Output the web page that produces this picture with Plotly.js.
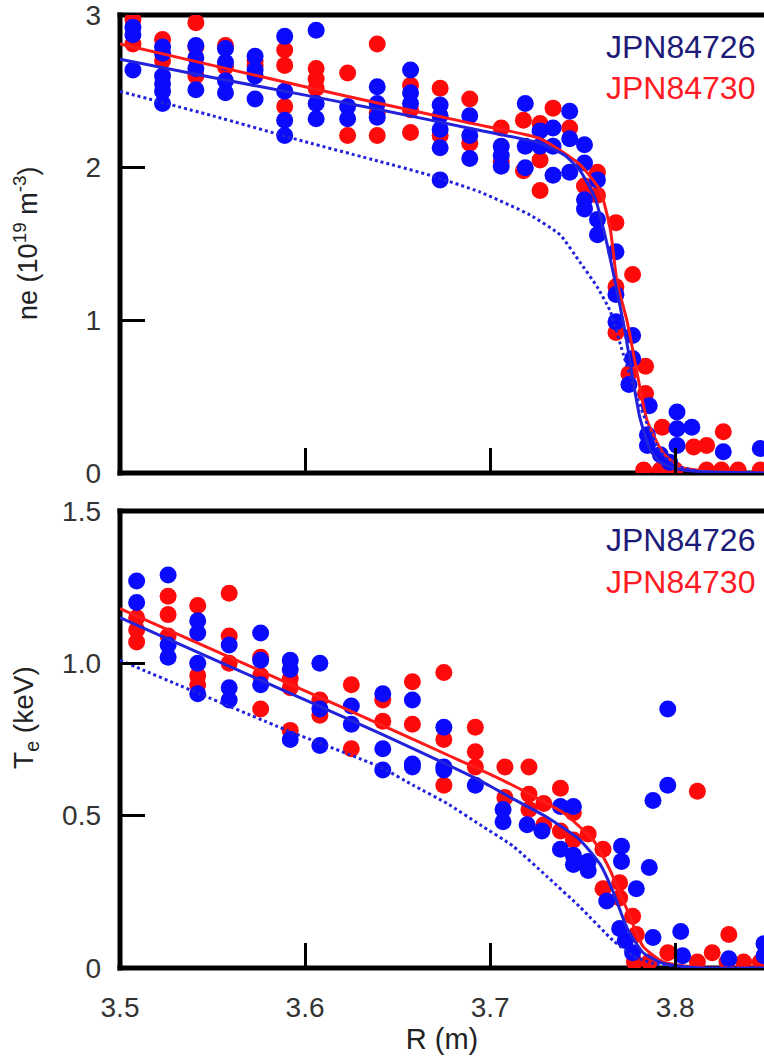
<!DOCTYPE html>
<html><head><meta charset="utf-8">
<script src="https://cdn.plot.ly/plotly-3.0.1.min.js"></script>
<style>html,body{margin:0;padding:0;background:#fff;overflow:hidden}</style>
</head><body><div id="chart" style="width:764px;height:1063px"></div>
<script>
// ---------- DATA ----------
// Top panel: electron density ne (10^19 m^-3) vs R (m)
var neBlueR = [3.507,3.507,3.507, 3.523,3.523,3.523,3.523,3.523,3.523, 3.541,3.541,3.541,3.541, 3.557,3.557,3.557,3.557,
  3.573,3.573,3.573,3.573, 3.589,3.589,3.589,3.589, 3.606,3.606,3.606, 3.623,3.623, 3.639,3.639,3.639, 3.657,3.657,3.657,
  3.673,3.673,3.673,3.673,3.673, 3.689,3.689,3.689, 3.706,3.706,3.706, 3.719,3.719,3.719, 3.727,3.727, 3.734,3.734,3.734,
  3.743,3.743,3.743, 3.751,3.751,3.751,3.751, 3.758,3.758,3.758, 3.768,3.768,3.768, 3.777,3.777, 3.775, 3.785,3.785, 3.786,
  3.792, 3.797, 3.801,3.801,3.801, 3.809, 3.826, 3.846];
var neBlue = [2.92,2.87,2.64, 2.79,2.75,2.60,2.55,2.50,2.42, 2.80,2.72,2.65,2.51, 2.78,2.69,2.57,2.49,
  2.73,2.64,2.60,2.45, 2.86,2.50,2.31,2.21, 2.90,2.42,2.32, 2.40,2.32, 2.53,2.42,2.33, 2.64,2.49,2.42,
  2.41,2.34,2.25,2.13,1.92, 2.34,2.21,2.06, 2.14,2.08,2.01, 2.42,2.14,2.00, 2.24,2.14, 2.26,2.14,1.95,
  2.37,2.19,1.97, 2.15,2.03,1.79,1.73, 1.92,1.66,1.56, 1.45,1.17,0.99, 0.90,0.75, 0.58, 0.25,0.18, 0.44,
  0.12, 0.07, 0.40,0.29,0.18, 0.30, 0.14, 0.16];
var neRedR = [3.507,3.507, 3.523,3.523, 3.541,3.541,3.541, 3.557,3.557, 3.573,3.573, 3.589,3.589,3.589, 3.606,3.606,3.606,
  3.623,3.623, 3.639,3.639,3.639, 3.657,3.657,3.657, 3.673,3.673, 3.689,3.689, 3.706,3.706, 3.718,3.718, 3.727,3.727,3.727,
  3.734, 3.743, 3.751, 3.758,3.758, 3.768,3.768,3.768, 3.777, 3.775, 3.784,3.784, 3.793, 3.810, 3.817, 3.826,
  3.783,3.792,3.800,3.817,3.825,3.834,3.846];
var neRed = [2.97,2.81, 2.84,2.70, 2.95,2.79,2.60, 2.80,2.66, 2.70,2.67, 2.77,2.67,2.40, 2.65,2.58,2.52,
  2.62,2.21, 2.81,2.36,2.21, 2.54,2.38,2.23, 2.52,2.21, 2.45,2.16, 2.26,2.04, 2.31,1.98, 2.29,2.05,1.85,
  2.39, 2.26, 1.88, 1.97,1.82, 1.64,1.22,0.92, 1.30, 0.65, 0.70,0.52, 0.30, 0.17, 0.18, 0.27,
  0.02,0.02,0.02,0.02,0.02,0.02,0.02];
// fitted profiles (top)
var neFitBlueR = [3.500,3.550,3.600,3.6405,3.690,3.727,3.7405,3.7486,3.7568,3.7622,3.7676,3.773,3.7773,3.781,3.7865,3.792,3.800,3.8135,3.848];
var neFitBlue  = [2.71, 2.59, 2.475,2.38,  2.255,2.16, 2.08,  1.98,  1.80,  1.55,  1.25,  0.92, 0.60,  0.36, 0.15,  0.07, 0.03, 0.01,  0.00];
var neFitRedR  = [3.500,3.550,3.600,3.6405,3.690,3.727,3.7486,3.7595,3.7649,3.7686,3.7741,3.7795,3.7849,3.7935,3.8027,3.8189,3.848];
var neFitRed   = [2.81, 2.67, 2.53, 2.42,  2.29, 2.19, 2.02,  1.85,  1.60,  1.25,  0.99,  0.65,  0.34,  0.13,  0.04,  0.01,  0.00];
var neDotR     = [3.500,3.550,3.600,3.6405,3.6676,3.6946,3.7216,3.7378,3.7486,3.7578,3.7649,3.7719,3.7795,3.7849,3.7919,3.800,3.8135,3.848];
var neDot      = [2.50, 2.34, 2.17, 2.04,  1.95,  1.84,  1.69,  1.56,  1.38,  1.22,  1.06,  0.78,  0.49,  0.32,  0.14,  0.05, 0.01,  0.00];

// Bottom panel: electron temperature Te (keV) vs R (m)
var teBlueR = [3.509,3.509, 3.526,3.526,3.526, 3.542,3.542,3.542,3.542, 3.559,3.559,3.559, 3.576,3.576,3.576,
  3.592,3.592,3.592, 3.608,3.608,3.608, 3.625,3.625, 3.642,3.642,3.642, 3.658,3.658,3.658, 3.675,3.675,3.675,
  3.692, 3.707,3.707, 3.720, 3.728, 3.738,3.738, 3.745,3.745,3.745, 3.753,3.753, 3.763, 3.771,3.771, 3.770,
  3.773, 3.777, 3.779, 3.786, 3.788,3.788, 3.796,3.796, 3.803, 3.804, 3.829, 3.848,3.848];
var teBlue = [1.27,1.20, 1.29,1.06,1.02, 1.14,1.10,1.00,0.90, 1.06,0.92,0.88, 1.10,1.01,0.93,
  1.01,0.98,0.75, 1.00,0.85,0.73, 0.86,0.80, 0.90,0.72,0.65, 0.88,0.67,0.66, 0.79,0.66,0.65,
  0.60, 0.52,0.48, 0.47, 0.45, 0.53,0.39, 0.37,0.34,0.53, 0.35,0.32, 0.22, 0.40,0.35, 0.13,
  0.09, 0.05, 0.26, 0.33, 0.10,0.55, 0.85,0.60, 0.12, 0.04, 0.03, 0.08,0.04];
var teRedR = [3.509,3.509,3.509, 3.526,3.526,3.526, 3.542,3.542,3.542, 3.559,3.559,3.559, 3.576,3.576,3.576,
  3.592,3.592,3.592, 3.608,3.608, 3.625,3.625, 3.642,3.642, 3.658,3.658, 3.675,3.675,3.675, 3.692,3.692,3.692,
  3.708,3.708, 3.721,3.721,3.721, 3.729,3.729, 3.738,3.738, 3.745,3.745, 3.753, 3.761,3.761, 3.770,3.770,
  3.777, 3.779, 3.796, 3.812, 3.820, 3.829, 3.778,3.786,3.812,3.828,3.837,3.846];
var teRed = [1.15,1.11,1.07, 1.22,1.16,1.09, 1.19,0.96,0.93, 1.23,1.09,1.00, 1.02,0.96,0.85,
  0.95,0.92,0.78, 0.88,0.83, 0.93,0.72, 0.88,0.81, 0.94,0.80, 0.97,0.75,0.60, 0.79,0.71,0.66,
  0.66,0.56, 0.66,0.57,0.52, 0.54,0.47, 0.59,0.45, 0.51,0.42, 0.44, 0.39,0.26, 0.28,0.23,
  0.17, 0.11, 0.05, 0.58, 0.05, 0.11, 0.02,0.02,0.02,0.02,0.02,0.02];
// fitted profiles (bottom)
var teFitBlueR = [3.500,3.550,3.600,3.6405,3.6946,3.7124,3.7308,3.7486,3.7595,3.7665,3.7741,3.7827,3.7935,3.8135,3.848];
var teFitBlue  = [1.15, 1.015,0.88, 0.77,  0.615, 0.555, 0.495, 0.42,  0.34,  0.25,  0.13,  0.05,  0.015, 0.00,  0.00];
var teFitRedR  = [3.500,3.550,3.600,3.6405,3.6768,3.7038,3.7216,3.7395,3.7557,3.7649,3.7741,3.7827,3.7935,3.8135,3.848];
var teFitRed   = [1.18, 1.045,0.91, 0.80,  0.70,  0.625, 0.57,  0.51,  0.42,  0.32,  0.19,  0.07,  0.02,  0.00,  0.00];
var teDotR     = [3.500,3.5903,3.6405,3.6584,3.6768,3.6946,3.7124,3.7308,3.7486,3.7665,3.7773,3.7881,3.8135,3.848];
var teDot      = [1.01, 0.78,  0.66,  0.60,  0.54,  0.47,  0.40,  0.30,  0.20,  0.09,  0.04,  0.015, 0.00,  0.00];

var xTicks = [3.5,3.6,3.7,3.8];
var xTickText = ['3.5','3.6','3.7','3.8'];
var neTicks = [0,1,2,3];
var neTickText = ['0','1','2','3'];
var teTicks = [0,0.5,1.0,1.5];
var teTickText = ['0','0.5','1.0','1.5'];
var shots = ['JPN84726','JPN84730'];
var neTitle = 'ne (10<sup>19</sup> m<sup>-3</sup>)';
var teTitle = 'T<sub>e</sub> (keV)';
var rTitle = 'R (m)';

// ---------- STYLE ----------
var BLUE = '#0a0aff', RED = '#ff0a0a';
var BLUE_LINE = '#2222dd', RED_LINE = '#ff1a1a';
var FONT = 'Liberation Sans, Arial, sans-serif';
var MS = 17;

function pts(x, y, c, xa, ya, name) {
  return {type:'scatter', mode:'markers', x:x, y:y, xaxis:xa, yaxis:ya, name:name,
    marker:{size:MS, color:c, line:{width:0}}, hoverinfo:'x+y'};
}
function ln(x, y, c, dash, xa, ya, name) {
  return {type:'scatter', mode:'lines', x:x, y:y, xaxis:xa, yaxis:ya, name:name,
    line:{color:c, width:3, dash:dash, shape:'spline', smoothing:0.5}, hoverinfo:'skip'};
}

var data = [
  pts(neRedR, neRed, RED, 'x', 'y', shots[1]),
  pts(neBlueR, neBlue, BLUE, 'x', 'y', shots[0]),
  ln(neFitRedR, neFitRed, RED_LINE, 'solid', 'x', 'y', shots[1]+' fit'),
  ln(neFitBlueR, neFitBlue, BLUE_LINE, 'solid', 'x', 'y', shots[0]+' fit'),
  ln(neDotR, neDot, BLUE_LINE, 'dot', 'x', 'y', 'reference'),
  pts(teRedR, teRed, RED, 'x2', 'y2', shots[1]),
  pts(teBlueR, teBlue, BLUE, 'x2', 'y2', shots[0]),
  ln(teFitRedR, teFitRed, RED_LINE, 'solid', 'x2', 'y2', shots[1]+' fit'),
  ln(teFitBlueR, teFitBlue, BLUE_LINE, 'solid', 'x2', 'y2', shots[0]+' fit'),
  ln(teDotR, teDot, BLUE_LINE, 'dot', 'x2', 'y2', 'reference')
];

var topDom = [0.5194, 1];
var botDom = [0, 0.4795];
var axCommon = {ticks:'inside', ticklen:25, tickwidth:3, tickcolor:'#000', showgrid:false, zeroline:false,
  showline:false, ticklabeloverflow:'allow', tickfont:{size:28, color:'#333', family:FONT}};

function frame(dom) {
  var ex = 2.5/644, ey = 2.5/953;
  var s = {type:'line', xref:'paper', yref:'paper', layer:'below', line:{color:'#000', width:5}};
  return [
    Object.assign({}, s, {x0:0, x1:0, y0:dom[0]-ey, y1:dom[1]+ey}),
    Object.assign({}, s, {x0:-ex, x1:1, y0:dom[0], y1:dom[0]}),
    Object.assign({}, s, {x0:-ex, x1:1, y0:dom[1], y1:dom[1]})
  ];
}

function label(text, x, y, size, color, angle) {
  return {xref:'paper', yref:'paper', x:x, y:y, xanchor: angle ? 'center' : 'right', yanchor:'middle',
    showarrow:false, text:text, textangle:angle || 0, font:{size:size, color:color, family:FONT}};
}

var layout = {
  width:764, height:1063,
  margin:{l:120, r:0, t:15, b:95},
  paper_bgcolor:'#ffffff', plot_bgcolor:'#ffffff',
  showlegend:false,
  font:{family:FONT, color:'#333'},
  xaxis:Object.assign({}, axCommon, {domain:[0,1], anchor:'y', range:[3.5,3.848],
    tickvals:xTicks, ticktext:xTickText, showticklabels:false}),
  yaxis:Object.assign({}, axCommon, {domain:topDom, anchor:'x', range:[0,3],
    tickvals:neTicks, ticktext:neTickText, ticklabelstandoff:18}),
  xaxis2:Object.assign({}, axCommon, {domain:[0,1], anchor:'y2', range:[3.5,3.848],
    tickvals:xTicks, ticktext:xTickText, ticklabelstandoff:20,
    title:{text:rTitle, font:{size:29, color:'#222', family:FONT}, standoff:6}}),
  yaxis2:Object.assign({}, axCommon, {domain:botDom, anchor:'x2', range:[0,1.5],
    tickvals:teTicks, ticktext:teTickText, ticklabelstandoff:18}),
  shapes: frame(topDom).concat(frame(botDom)),
  annotations: [
    label(neTitle, -0.146, 0.7608, 27, '#222', -90),
    label(teTitle, -0.146, 0.2634, 28, '#222', -90),
    label(shots[0], 0.989, 0.9664, 32, '#1c1c78'),
    label(shots[1], 0.989, 0.9234, 32, '#ff1a24'),
    label(shots[0], 0.989, 0.4491, 32, '#1c1c78'),
    label(shots[1], 0.989, 0.4050, 32, '#ff1a24')
  ]
};

Plotly.newPlot('chart', data, layout, {displayModeBar:false, staticPlot:true});
</script></body></html>
